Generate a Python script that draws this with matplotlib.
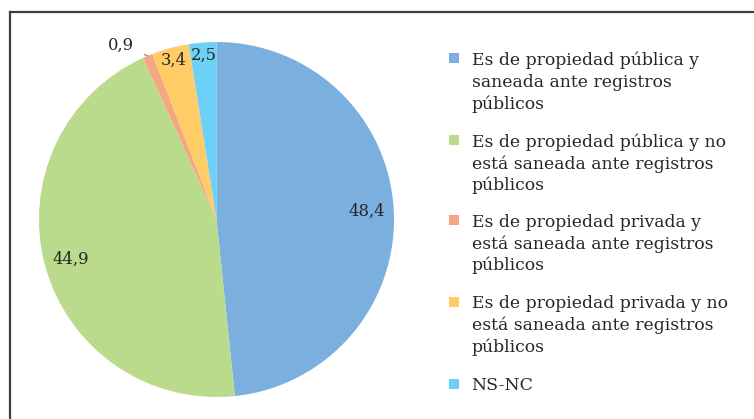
import numpy as np
import matplotlib
matplotlib.use("Agg")
import matplotlib.pyplot as plt
from matplotlib.lines import Line2D
from matplotlib.patches import Rectangle

categories = [
    "Es de propiedad pública y\nsaneada ante registros\npúblicos",
    "Es de propiedad pública y no\nestá saneada ante registros\npúblicos",
    "Es de propiedad privada y\nestá saneada ante registros\npúblicos",
    "Es de propiedad privada y no\nestá saneada ante registros\npúblicos",
    "NS-NC",
]
values = [48.4, 44.9, 0.9, 3.4, 2.5]
value_labels = ["48,4", "44,9", "0,9", "3,4", "2,5"]
colors = ["#7BAFDE", "#BBDB8C", "#F5A683", "#FFCC66", "#6DD0F6"]

W, H = 754, 419
fig = plt.figure(figsize=(W / 100, H / 100), dpi=100)
FONT = "DejaVu Serif"
FS = 11.8
FS_LEG = 12.4
TXT = "#262626"

def fx(px):
    return px / W

def fy(py):
    return 1 - py / H

# pie axes
cx, cy, r = 216.5, 219.5, 177.5
ax = fig.add_axes([fx(cx - r), fy(cy + r), 2 * r / W, 2 * r / H])
wedges, _ = ax.pie(values, colors=colors, startangle=90, counterclock=False,
                   radius=1.0, wedgeprops=dict(linewidth=0))
ax.set_xlim(-1, 1)
ax.set_ylim(-1, 1)
ax.set_aspect("equal")
ax.axis("off")

label_dist = [0.85, 0.85, None, 0.93, 0.93]
for w, lab, d in zip(wedges, value_labels, label_dist):
    mid = np.deg2rad((w.theta1 + w.theta2) / 2)
    if d is not None:
        ax.text(d * np.cos(mid), d * np.sin(mid), lab, ha="center", va="center",
                fontsize=FS, family=FONT, color=TXT)
    else:
        ex, ey = np.cos(mid), np.sin(mid)
        ang = mid + np.deg2rad(6)
        ax.annotate(lab, xy=(1.0 * ex, 1.0 * ey),
                    xytext=(1.12 * np.cos(ang), 1.12 * np.sin(ang)),
                    ha="center", va="center", fontsize=FS, family=FONT, color=TXT,
                    arrowprops=dict(arrowstyle="-", color="#808080", lw=0.8,
                                    shrinkA=6, shrinkB=0),
                    annotation_clip=False)

# frame (top and left visible)
fig.add_artist(Line2D([fx(9.5), fx(9.5)], [fy(12), fy(H + 5)], color="#404040", lw=1.6,
                      transform=fig.transFigure))
fig.add_artist(Line2D([fx(9.5), fx(W + 5)], [fy(12), fy(12)], color="#404040", lw=1.6,
                      transform=fig.transFigure))

# legend
first_baselines = [65, 146.7, 226.7, 308, 390]
pitch = 21.8
text_x = 471.5
for lab, col, b0 in zip(categories, colors, first_baselines):
    fig.patches.append(Rectangle((fx(448.5), fy(b0 - 1.5)), 10 / W, 10 / H,
                                 transform=fig.transFigure, facecolor=col,
                                 edgecolor="none"))
    for i, line in enumerate(lab.split("\n")):
        fig.text(fx(text_x), fy(b0 + i * pitch), line, ha="left", va="baseline",
                 fontsize=FS_LEG, family=FONT, color=TXT)

fig.savefig("out.png", dpi=100)
